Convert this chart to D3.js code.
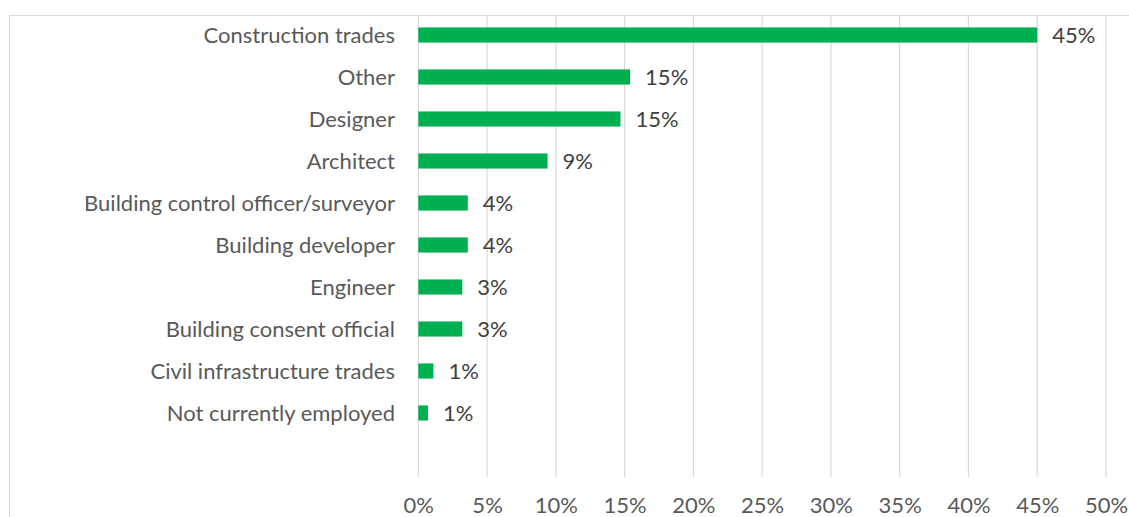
<!DOCTYPE html>
<html>
<head>
<meta charset="utf-8">
<script src="https://cdn.jsdelivr.net/npm/d3@7"></script>
<style>
  html, body { margin: 0; padding: 0; background: #fff; }
  svg { display: block; }
  text { font-family: Lato, "Open Sans", sans-serif; }
</style>
</head>
<body>
<svg id="chart" width="1129" height="517"></svg>
<script>
// Occupation of respondents (share of total)
const categories = [
  "Construction trades",
  "Other",
  "Designer",
  "Architect",
  "Building control officer/surveyor",
  "Building developer",
  "Engineer",
  "Building consent official",
  "Civil infrastructure trades",
  "Not currently employed"
];
const shares = [0.45, 0.154, 0.147, 0.094, 0.036, 0.036, 0.032, 0.032, 0.011, 0.007];
const tickValues = [0, 0.05, 0.10, 0.15, 0.20, 0.25, 0.30, 0.35, 0.40, 0.45, 0.50];

const data = categories.map((c, i) => ({ category: c, value: shares[i] }));

const svg = d3.select("#chart");
const W = 1129, H = 517;
const FONT = 22;

const plot = { left: 418.3, right: 1106, top: 15, bottom: 477 };

const x = d3.scaleLinear().domain([0, 0.5]).range([plot.left, plot.right]);
const y = d3.scaleBand().domain(categories).range([14, 434]).paddingInner(0.64).paddingOuter(0.32);
const pct = d3.format(".0%");

// chart frame
svg.append("rect")
  .attr("x", 9.5).attr("y", 15.5)
  .attr("width", W).attr("height", H)
  .attr("fill", "none")
  .attr("stroke", "#d9d9d9")
  .attr("stroke-width", 1);

// vertical gridlines
svg.append("g")
  .selectAll("line")
  .data(tickValues)
  .join("line")
  .attr("x1", d => x(d)).attr("x2", d => x(d))
  .attr("y1", plot.top).attr("y2", plot.bottom)
  .attr("stroke", "#d9d9d9")
  .attr("stroke-width", 1.2);

// x axis tick labels
const xAxis = d3.axisBottom(x).tickValues(tickValues).tickFormat(pct).tickSize(0).tickPadding(0);
const gx = svg.append("g").attr("transform", `translate(0, 513)`).call(xAxis);
gx.select(".domain").remove();
gx.selectAll("text")
  .attr("font-size", FONT)
  .attr("fill", "#595959")
  .attr("y", 0)
  .attr("dy", 0)
  .style("font-family", "Lato, 'Open Sans', sans-serif");

// category labels
const yAxis = d3.axisLeft(y).tickSize(0).tickPadding(0);
const gy = svg.append("g").attr("transform", `translate(395, 0)`).call(yAxis);
gy.select(".domain").remove();
gy.selectAll("text")
  .attr("font-size", FONT)
  .attr("fill", "#595959")
  .attr("dy", "0.37em")
  .style("font-family", "Lato, 'Open Sans', sans-serif");

// bars
svg.append("g")
  .selectAll("rect")
  .data(data)
  .join("rect")
  .attr("x", x(0))
  .attr("y", d => y(d.category))
  .attr("width", d => x(d.value) - x(0))
  .attr("height", y.bandwidth())
  .attr("fill", "#00b050");

// value labels
svg.append("g")
  .selectAll("text")
  .data(data)
  .join("text")
  .attr("x", d => x(d.value) + 15)
  .attr("y", d => y(d.category) + y.bandwidth() / 2)
  .attr("dy", "0.37em")
  .attr("font-size", FONT)
  .attr("fill", "#404040")
  .text(d => pct(d.value));
</script>
</body>
</html>
